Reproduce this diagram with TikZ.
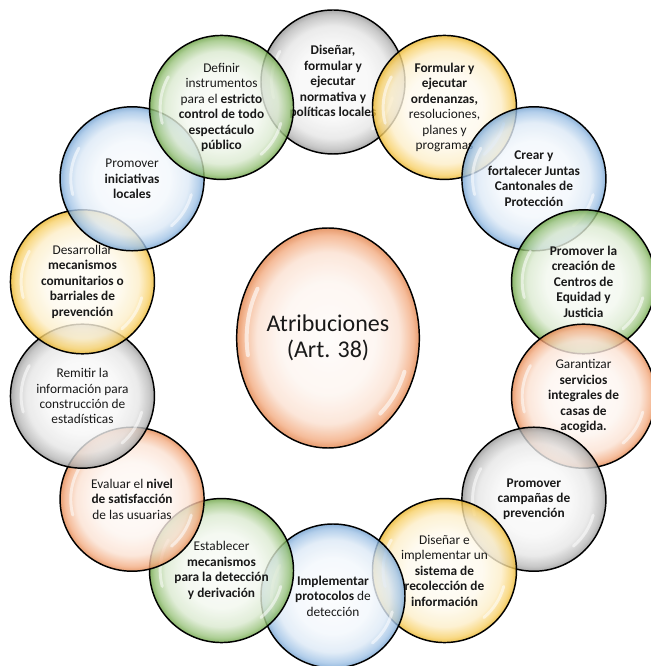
\documentclass[tikz,border=0pt]{standalone}
\usepackage{fontspec}
\setmainfont{Carlito}
\usetikzlibrary{shapes.geometric}
\definecolor{grisb}{HTML}{9C9C9C}
\definecolor{verdeb}{HTML}{6FAA45}
\definecolor{amarillob}{HTML}{F5BD2A}
\definecolor{azulb}{HTML}{78A9DB}
\definecolor{naranjab}{HTML}{EE8B50}
% sombreado tipo burbuja: centro claro, borde intenso
\newcommand{\sombraburbuja}[2]{%
  \pgfdeclareradialshading{#1}{\pgfpoint{0bp}{0bp}}{%
    color(0bp)=(#2!3!white); color(13bp)=(#2!9!white);
    color(19.5bp)=(#2!26!white); color(23.3bp)=(#2!70!white);
    color(25bp)=(#2!95!black); color(50bp)=(#2!95!black)}}
\sombraburbuja{bgris}{grisb}
\sombraburbuja{bverde}{verdeb}
\sombraburbuja{bamarillo}{amarillob}
\sombraburbuja{bazul}{azulb}
\sombraburbuja{bnaranja}{naranjab}
\newcommand{\radio}{192.75pt}

\begin{document}
\begin{tikzpicture}[
  burbuja/.style={
    circle, minimum size=108pt, inner sep=0pt,
    draw=black, line width=1.1pt,
    fill opacity=0.8, text opacity=1,
    align=center, text=black!90,
    font=\fontsize{10}{11.6}\selectfont,
    path picture={
      \draw[white, line width=2.2pt, line cap=round, opacity=.55]
        ([shift={(150:46pt)}]path picture bounding box.center)
          arc[start angle=150, end angle=195, radius=46pt]
        ([shift={(-15:46pt)}]path picture bounding box.center)
          arc[start angle=-15, end angle=-50, radius=46pt];
    }
  },
  gris/.style={burbuja, shading=bgris},
  verde/.style={burbuja, shading=bverde},
  amarillo/.style={burbuja, shading=bamarillo},
  azul/.style={burbuja, shading=bazul},
  naranja/.style={burbuja, shading=bnaranja},
  central/.style={
    ellipse, minimum width=137pt, minimum height=165pt, inner sep=0pt,
    draw=black, line width=1.1pt, shading=bnaranja,
    fill opacity=0.82, text opacity=1,
    align=center, text=black!90,
    font=\fontsize{18}{20}\selectfont,
    path picture={
      \draw[white, line width=3pt, line cap=round, opacity=.6]
        ([shift={(150:61pt and 74pt)}]path picture bounding box.center)
          arc[start angle=150, end angle=190, x radius=61pt, y radius=74pt]
        ([shift={(-20:61pt and 74pt)}]path picture bounding box.center)
          arc[start angle=-20, end angle=-50, x radius=61pt, y radius=74pt];
    }
  }
]
  \useasboundingbox (-249.75pt,-245.25pt) rectangle (237.75pt,254.25pt);

  \node[central] (atrib) at (-3.75pt,0.75pt) {Atribuciones\\(Art. 38)};

  \node[gris] (normativa) at (90:\radio)
    {\textbf{Diseñar,}\\\textbf{formular y}\\\textbf{ejecutar}\\\textbf{normativa y}\\\textbf{políticas locales}};
  \node[amarillo] (ordenanzas) at (64.29:\radio)
    {\textbf{Formular y}\\\textbf{ejecutar}\\\textbf{ordenanzas,}\\resoluciones,\\planes y\\programas};
  \node[azul] (juntas) at (38.57:\radio)
    {\textbf{Crear y}\\\textbf{fortalecer Juntas}\\\textbf{Cantonales de}\\\textbf{Protección}};
  \node[verde] (centros) at (12.86:\radio)
    {\textbf{Promover la}\\\textbf{creación de}\\\textbf{Centros de}\\\textbf{Equidad y}\\\textbf{Justicia}};
  \node[naranja] (acogida) at (-12.86:\radio)
    {Garantizar\\\textbf{servicios}\\\textbf{integrales de}\\\textbf{casas de}\\\textbf{acogida.}};
  \node[gris] (campanas) at (-38.57:\radio)
    {\textbf{Promover}\\\textbf{campañas de}\\\textbf{prevención}};
  \node[amarillo] (sistema) at (-64.29:\radio)
    {Diseñar e\\implementar un\\\textbf{sistema de}\\\textbf{recolección de}\\\textbf{información}};
  \node[azul] (protocolos) at (-90:\radio)
    {\textbf{Implementar}\\\textbf{protocolos} de\\detección};
  \node[verde] (derivacion) at (-115.71:\radio)
    {Establecer\\\textbf{mecanismos}\\\textbf{para la detección}\\\textbf{y derivación}};
  \node[naranja] (satisfaccion) at (-141.43:\radio)
    {Evaluar el \textbf{nivel}\\\textbf{de satisfacción}\\de las usuarias};
  \node[gris] (estadisticas) at (-167.14:\radio)
    {Remitir la\\información para\\construcción de\\estadísticas};
  \node[amarillo] (comunitarios) at (167.14:\radio)
    {Desarrollar\\\textbf{mecanismos}\\\textbf{comunitarios o}\\\textbf{barriales de}\\\textbf{prevención}};
  \node[azul] (iniciativas) at (141.43:\radio)
    {Promover\\\textbf{iniciativas}\\\textbf{locales}};
  \node[verde] (espectaculo) at (115.71:\radio)
    {Definir\\instrumentos\\para el \textbf{estricto}\\\textbf{control de todo}\\\textbf{espectáculo}\\\textbf{público}};
\end{tikzpicture}
\end{document}
